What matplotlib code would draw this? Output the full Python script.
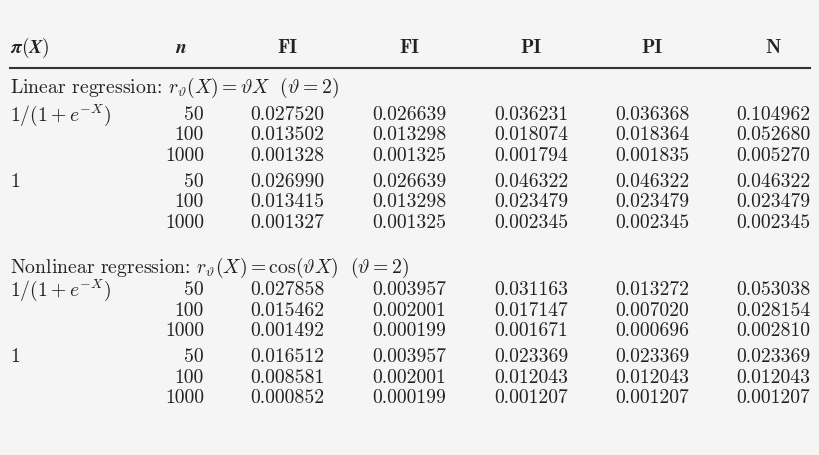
import matplotlib
matplotlib.use("Agg")
import matplotlib.pyplot as plt

plt.rcParams['mathtext.fontset'] = 'cm'
plt.rcParams['font.family'] = ['cmr10', 'DejaVu Serif']
plt.rcParams['axes.unicode_minus'] = False

headers = [r"$\boldsymbol{\pi(X)}$", r"$\boldsymbol{n}$", "FI", "FI", "PI", "PI", "N"]
sections = [r"Linear regression: $r_\vartheta(X) = \vartheta X\ \ (\vartheta = 2)$",
            r"Nonlinear regression: $r_\vartheta(X) = \cos(\vartheta X)\ \ (\vartheta = 2)$"]
pi_labels = [r"$1/(1+e^{-X})$", "1"]
n_values = ["50", "100", "1000"]
lin_logit = [["0.027520", "0.026639", "0.036231", "0.036368", "0.104962"],
             ["0.013502", "0.013298", "0.018074", "0.018364", "0.052680"],
             ["0.001328", "0.001325", "0.001794", "0.001835", "0.005270"]]
lin_one = [["0.026990", "0.026639", "0.046322", "0.046322", "0.046322"],
           ["0.013415", "0.013298", "0.023479", "0.023479", "0.023479"],
           ["0.001327", "0.001325", "0.002345", "0.002345", "0.002345"]]
nl_logit = [["0.027858", "0.003957", "0.031163", "0.013272", "0.053038"],
            ["0.015462", "0.002001", "0.017147", "0.007020", "0.028154"],
            ["0.001492", "0.000199", "0.001671", "0.000696", "0.002810"]]
nl_one = [["0.016512", "0.003957", "0.023369", "0.023369", "0.023369"],
          ["0.008581", "0.002001", "0.012043", "0.012043", "0.012043"],
          ["0.000852", "0.000199", "0.001207", "0.001207", "0.001207"]]
blocks = [[lin_logit, lin_one], [nl_logit, nl_one]]

fig = plt.figure(figsize=(8.2, 4.56), dpi=100, facecolor="#f5f5f5")
ax = fig.add_axes([0, 0, 1, 1])
ax.set_xlim(0, 820); ax.set_ylim(456, 0); ax.axis("off")
fs = 14.2
col_x = [287, 409, 531, 652, 773]
tc = "#222222"

ax.text(10, 48, headers[0], fontsize=fs, va="center", ha="left", color=tc)
ax.text(181, 48, headers[1], fontsize=fs, va="center", ha="center", color=tc)
for x, h in zip(col_x, headers[2:]):
    ax.text(x, 48, h, fontsize=fs, va="center", ha="center", family="cmb10", color=tc)
ax.plot([10, 810], [69, 69], color="#333333", lw=1.5)

sec_y = [88, 268]
row_y = [[[115, 135, 156], [182, 202, 223]], [[290, 311, 331], [357, 378, 398]]]
for s in range(2):
    ax.text(10, sec_y[s], sections[s], fontsize=fs, va="center", ha="left", color=tc)
    for b in range(2):
        ax.text(10, row_y[s][b][0], pi_labels[b], fontsize=fs, va="center", ha="left", color=tc)
        for r in range(3):
            y = row_y[s][b][r]
            ax.text(204, y, n_values[r], fontsize=fs, va="center", ha="right", color=tc)
            for x, v in zip(col_x, blocks[s][b][r]):
                ax.text(x, y, v, fontsize=fs, va="center", ha="center", color=tc)

fig.savefig("out.png", dpi=100, facecolor=fig.get_facecolor())
